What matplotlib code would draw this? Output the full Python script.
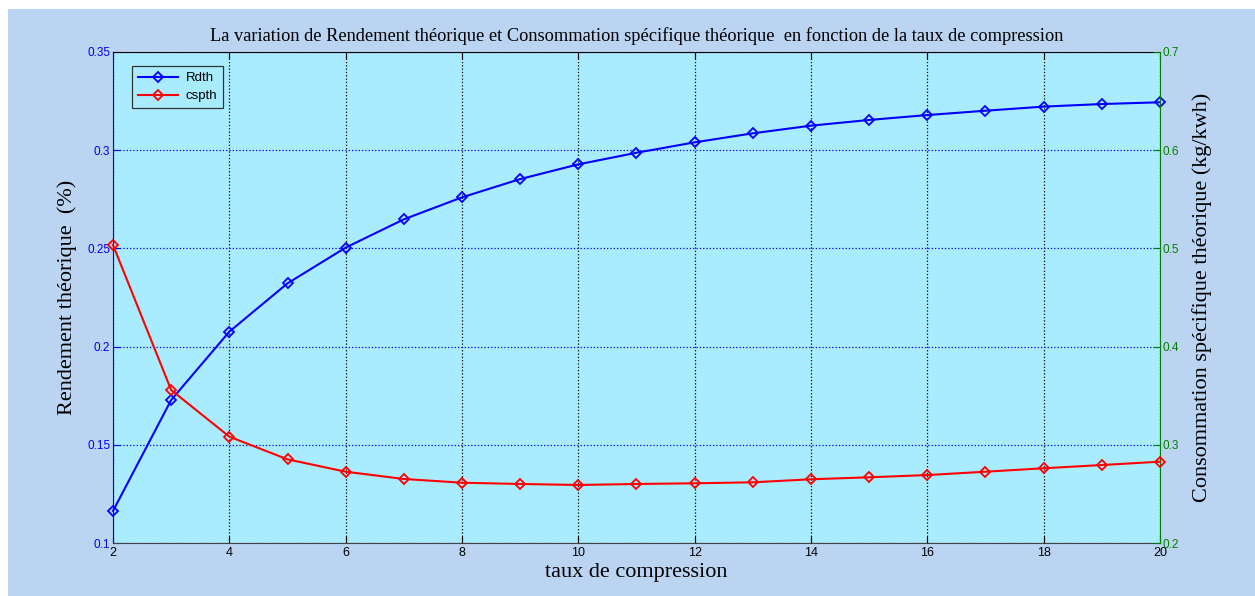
import matplotlib
matplotlib.use("Agg")
import matplotlib.pyplot as plt
from matplotlib.patches import Rectangle

# taux de compression
taux = [2, 3, 4, 5, 6, 7, 8, 9, 10, 11, 12, 13, 14, 15, 16, 17, 18, 19, 20]
# rendement theorique
Rdth = [0.1163, 0.1728, 0.2076, 0.2322, 0.2504, 0.2648, 0.2760, 0.2853, 0.2928,
        0.2987, 0.3040, 0.3086, 0.3125, 0.3154, 0.3179, 0.3201, 0.3222, 0.3235, 0.3244]
# consommation specifique theorique (kg/kwh)
cspth = [0.5035, 0.3558, 0.3083, 0.2852, 0.2726, 0.2652, 0.2614, 0.2601, 0.2591,
         0.2601, 0.2608, 0.2618, 0.2649, 0.2669, 0.2692, 0.2726, 0.2761, 0.2794, 0.2828]

xticks = [2, 4, 6, 8, 10, 12, 14, 16, 18, 20]
yticks1 = [0.1, 0.15, 0.2, 0.25, 0.3, 0.35]
yticks2 = [0.2, 0.3, 0.4, 0.5, 0.6, 0.7]

serif = ['Liberation Serif', 'DejaVu Serif']
sans = ['Liberation Sans', 'DejaVu Sans']
vert = '#008000'

fig = plt.figure(figsize=(12.55, 5.96), dpi=100)
fig.patch.set_facecolor('white')
fig.patches.append(Rectangle((8 / 1255, 0), 1, 1 - 9 / 596, transform=fig.transFigure,
                             facecolor='#BAD4F2', edgecolor='none', zorder=-10))

ax1 = fig.add_axes([113 / 1255, 53 / 596, 1047 / 1255, 491 / 596])
ax1.set_facecolor('#AAECFF')
ax2 = ax1.twinx()

l1, = ax1.plot(taux, Rdth, color='#0000FF', lw=1.5, marker='D', ms=5.2,
               mfc='none', mew=1.3, label='Rdth', clip_on=False, zorder=3)
l2, = ax2.plot(taux, cspth, color='#FF0000', lw=1.5, marker='D', ms=5.2,
               mfc='none', mew=1.3, label='cspth', clip_on=False, zorder=3)

ax1.set_xlim(2, 20)
ax1.set_ylim(0.1, 0.35)
ax2.set_ylim(0.2, 0.7)
ax1.set_xticks(xticks)
ax1.set_xticklabels([str(v) for v in xticks], family=sans, fontsize=9)
ax1.set_yticks(yticks1)
ax1.set_yticklabels(['%g' % v for v in yticks1], family=sans, fontsize=8.5, color='#2222FF')
ax2.set_yticks(yticks2)
ax2.set_yticklabels(['%g' % v for v in yticks2], family=sans, fontsize=8.5, color=vert)

ax1.tick_params(axis='x', direction='in', length=5, colors='black', top=True, pad=3)
ax1.tick_params(axis='y', direction='in', length=5, colors='#0000FF', pad=2)
ax2.tick_params(axis='y', direction='in', length=5, colors=vert, pad=2)

ax1.xaxis.grid(True, color='black', linestyle=':', lw=0.9)
ax1.yaxis.grid(True, color='#0000FF', linestyle=':', lw=0.9)

ax1.spines['left'].set_color('#0000FF')
ax1.spines['bottom'].set_color('#444444')
ax1.spines['top'].set_color('black')
ax1.spines['right'].set_visible(False)
for s in ('left', 'top', 'bottom'):
    ax2.spines[s].set_visible(False)
ax2.spines['right'].set_color(vert)

ax1.set_title("La variation de Rendement théorique et Consommation spécifique théorique  en fonction de la taux de compression",
              family=serif, fontsize=13.2, pad=8)
ax1.set_xlabel('taux de compression', family=serif, fontsize=16, labelpad=3)
ax1.set_ylabel('Rendement théorique  (%)', family=serif, fontsize=16, labelpad=7)
ax2.set_ylabel('Consommation spécifique théorique (kg/kwh)', family=serif, fontsize=16, labelpad=9)

leg = ax2.legend([l1, l2], ['Rdth', 'cspth'], loc='upper left',
                 bbox_to_anchor=(19 / 1047, 1 - 14 / 491), borderaxespad=0,
                 prop={'family': sans, 'size': 9.5},
                 fancybox=False, framealpha=1, facecolor='#AAECFF', edgecolor='#333333',
                 handlelength=3.0, borderpad=0.45, labelspacing=0.45, handletextpad=0.6)
leg.get_frame().set_linewidth(0.9)

fig.savefig('out.png', dpi=100, facecolor=fig.get_facecolor())
